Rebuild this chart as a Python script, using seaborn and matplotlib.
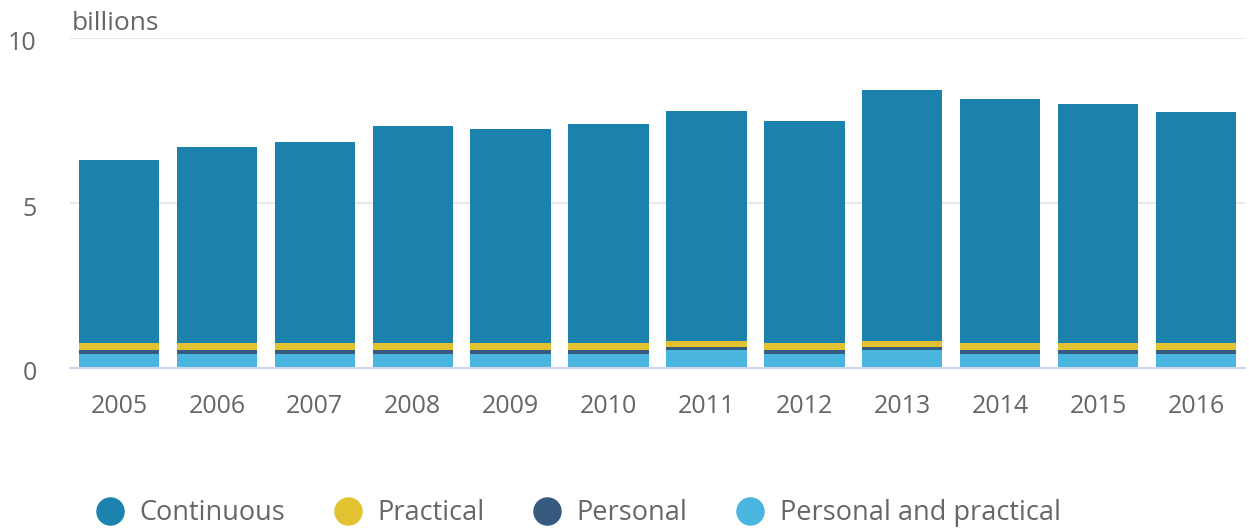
import numpy as np
import pandas as pd
import matplotlib
matplotlib.use("Agg")
import matplotlib.pyplot as plt
import matplotlib.transforms as mtransforms
from matplotlib.lines import Line2D
import seaborn as sns

years = ["2005", "2006", "2007", "2008", "2009", "2010", "2011", "2012", "2013", "2014", "2015", "2016"]
personal_practical = [0.42, 0.42, 0.42, 0.42, 0.42, 0.42, 0.55, 0.42, 0.55, 0.42, 0.42, 0.42]
personal = [0.13, 0.13, 0.13, 0.13, 0.13, 0.13, 0.08, 0.13, 0.08, 0.13, 0.13, 0.13]
practical = [0.21, 0.21, 0.21, 0.21, 0.21, 0.21, 0.19, 0.21, 0.19, 0.21, 0.21, 0.21]
continuous = [5.53, 5.93, 6.08, 6.56, 6.47, 6.62, 6.96, 6.74, 7.60, 7.38, 7.25, 7.01]

series_names = ["Continuous", "Practical", "Personal", "Personal and practical"]
colors = {"Continuous": "#1a82ad", "Practical": "#e3c232",
          "Personal": "#375a7f", "Personal and practical": "#4ab5de"}

sns.set_theme(style="white")
plt.rcParams['font.family'] = ['Open Sans', 'DejaVu Sans']

df = pd.DataFrame({"year": years,
                   "Personal and practical": personal_practical,
                   "Personal": personal,
                   "Practical": practical,
                   "Continuous": continuous})
order_bottom_up = ["Personal and practical", "Personal", "Practical", "Continuous"]
cum = df[order_bottom_up].cumsum(axis=1)

fig = plt.figure(figsize=(12.49, 5.28), dpi=100)
ax = fig.add_axes([70/1249, 1-368/528, (1245-70)/1249, (368-38)/528])

for name in reversed(order_bottom_up):
    sns.barplot(x=df["year"], y=cum[name], color=colors[name], saturation=1,
                width=0.82, ax=ax, zorder=2, linewidth=0, edgecolor="none")

ax.set_ylim(0, 10)
ax.set_xlim(-0.5, len(years) - 0.5)
ax.set_yticks([0, 5, 10])
ax.set_yticklabels(["0", "5", "10"])
ax.yaxis.grid(True, color="#e6e6e6", linewidth=1.3, zorder=0)
ax.set_axisbelow(True)
ax.set_xlabel("")
ax.set_ylabel("")
for s in ["top", "right", "left"]:
    ax.spines[s].set_visible(False)
ax.spines["bottom"].set_color("#ccd6eb")
ax.spines["bottom"].set_linewidth(1.5)
ax.spines["bottom"].set_zorder(3)

ax.tick_params(axis="y", length=0, labelsize=18, labelcolor="#666666", pad=24)
ax.tick_params(axis="x", which="major", length=0, labelsize=18, labelcolor="#666666", pad=19)
ax.set_xticks(np.arange(-0.5, len(years), 1.0), minor=True)
ax.tick_params(axis="x", which="minor", length=20, width=1.5, color="#ccd6eb", direction="out")

offset = mtransforms.ScaledTranslation(0, -3/100, fig.dpi_scale_trans)
for lbl in ax.get_yticklabels():
    lbl.set_transform(lbl.get_transform() + offset)

fig.text(72/1249, 1-23/528, "billions", fontsize=19, color="#666666", va="center", ha="left")

handles = [Line2D([0], [0], marker="o", linestyle="", markersize=19.5,
                  markerfacecolor=colors[n], markeredgecolor=colors[n]) for n in series_names]
fig.legend(handles, series_names, loc="center left", bbox_to_anchor=(95/1249, 1-513/528),
           ncol=4, frameon=False, fontsize=19.5, handletextpad=0.55, columnspacing=1.75,
           labelcolor="#666666", handlelength=1.1, borderaxespad=0, borderpad=0)

fig.savefig("out.png", dpi=100)
